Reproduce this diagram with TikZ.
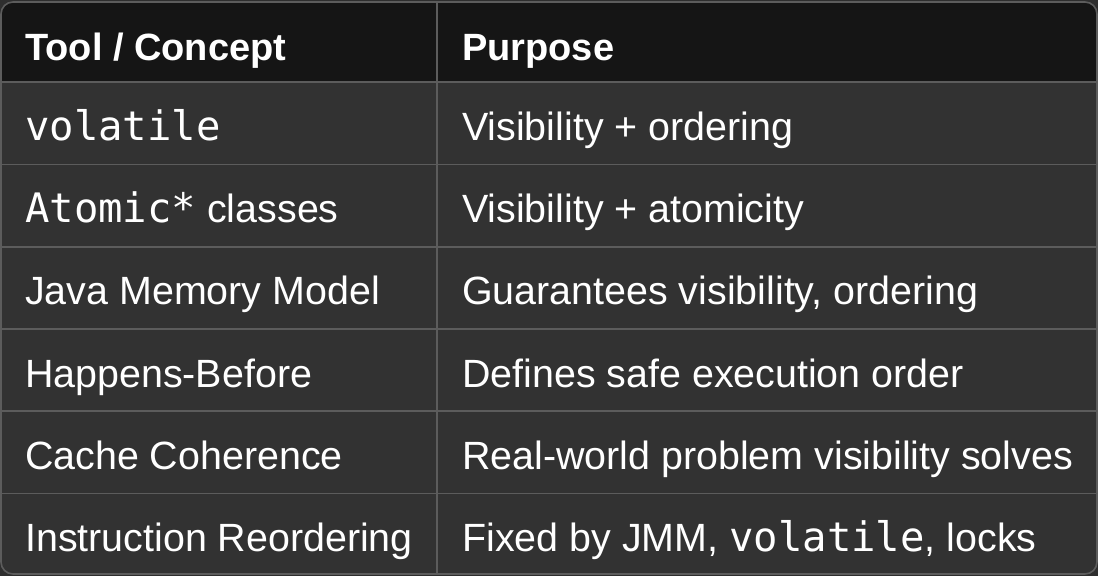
\documentclass[tikz,border=0pt]{standalone}
\usepackage{fontspec}
\setmainfont{Liberation Sans}
\setmonofont{DejaVu Sans Mono}
\usetikzlibrary{positioning}

\definecolor{headbg}{HTML}{151515}
\definecolor{rowbg}{HTML}{323232}
\definecolor{gridln}{HTML}{5C5C5C}
\definecolor{pagebg}{HTML}{2E2E2E}

\newcommand{\jcode}[1]{{\fontsize{40.6}{46}\ttfamily #1}}

\begin{document}
\begin{tikzpicture}[x=1pt, y=-1pt,
    cell/.style={anchor=base west, text=white, inner sep=0pt, font=\fontsize{39.4}{46}\selectfont},
    head/.style={cell, font=\fontsize{38}{44}\selectfont\bfseries},
    grid/.style={draw=gridln, line width=1.6pt}]
    \useasboundingbox (0,0) rectangle (1098,576);
    \fill[pagebg] (0,0) rectangle (1098,576);
    \fill[rowbg, rounded corners=12pt] (1,2) rectangle (1097,574);
    \begin{scope}
        \clip[rounded corners=12pt] (1,2) rectangle (1097,574);
        \fill[headbg] (1,2) rectangle (1097,82);
    \end{scope}

    % row and column lines
    \foreach \y in {82,164.5,246.7,329,411.2,493.3}
        \draw[grid] (1,\y) -- (1097,\y);
    \draw[grid] (437,2) -- (437,574);
    \draw[grid, rounded corners=12pt] (1,2) rectangle (1097,574);

    \node[head] (h1) at (25,60) {Tool / Concept};
    \node[head] (h2) at (462,60) {Purpose};

    \node[cell] (t1) at (25,140) {\jcode{volatile}};
    \node[cell] (p1) at (462,140) {Visibility + ordering};
    \node[cell] (t2) at (25,222.5) {\jcode{Atomic*} classes};
    \node[cell] (p2) at (462,222.5) {Visibility + atomicity};
    \node[cell] (t3) at (25,304.7) {Java Memory Model};
    \node[cell] (p3) at (462,304.7) {Guarantees visibility, ordering};
    \node[cell] (t4) at (25,387) {Happens-Before};
    \node[cell] (p4) at (462,387) {Defines safe execution order};
    \node[cell] (t5) at (25,469.2) {Cache Coherence};
    \node[cell] (p5) at (462,469.2) {Real-world problem visibility solves};
    \node[cell] (t6) at (25,551.3) {Instruction Reordering};
    \node[cell] (p6) at (462,551.3) {Fixed by JMM, \jcode{volatile}, locks};
\end{tikzpicture}
\end{document}
